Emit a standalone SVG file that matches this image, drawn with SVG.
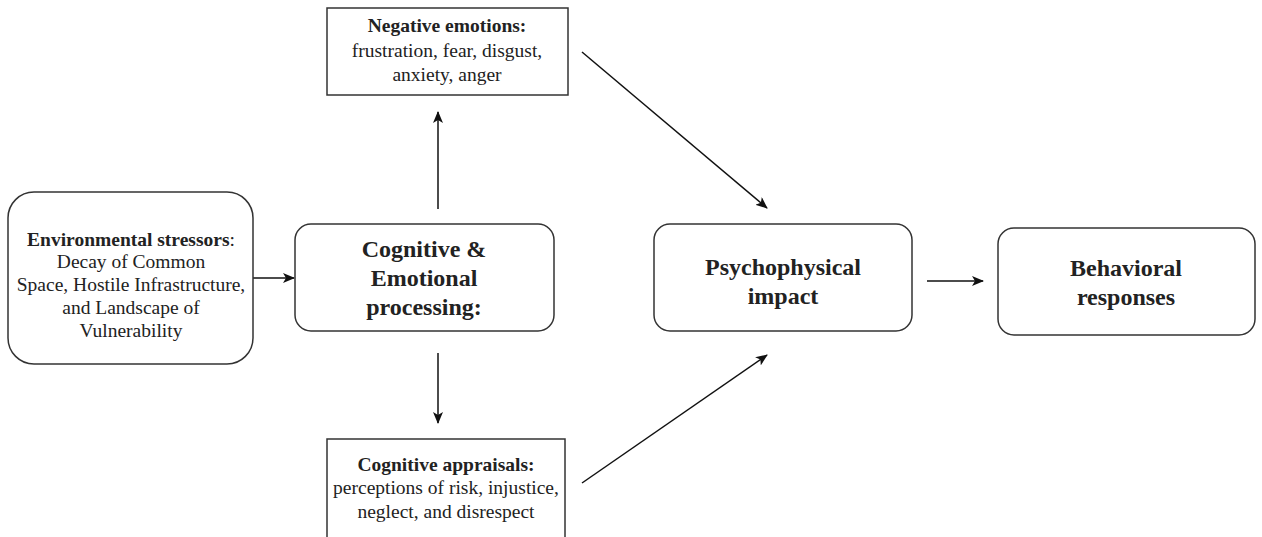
<svg xmlns="http://www.w3.org/2000/svg" width="1262" height="537" viewBox="0 0 1262 537">
<defs>
<style>
.box{fill:#fff;stroke:#333;stroke-width:1.5}
.t{font-family:"Liberation Serif","Times New Roman",serif;font-size:19.5px;fill:#222;text-anchor:middle}
.b{font-weight:bold}
.big{font-family:"Liberation Serif","Times New Roman",serif;font-size:24px;font-weight:bold;fill:#222;text-anchor:middle}
.c{stroke:#111;stroke-width:1.5;fill:none;marker-end:url(#ah)}
</style>
<marker id="ah" markerWidth="12" markerHeight="10" refX="11" refY="5" orient="auto" markerUnits="userSpaceOnUse">
<path d="M0,0 L12,5 L0,10 L3,5 z" fill="#111"/>
</marker>
</defs>
<rect width="1262" height="537" fill="#fff"/>
<g id="connectors">
<line class="c" x1="253" y1="278" x2="294" y2="278"/>
<line class="c" x1="438" y1="209" x2="438" y2="112"/>
<line class="c" x1="438" y1="353" x2="438" y2="423"/>
<line class="c" x1="582" y1="52" x2="767" y2="208"/>
<line class="c" x1="582" y1="483" x2="767" y2="355"/>
<line class="c" x1="927" y1="281" x2="983" y2="281"/>
</g>
<g id="env">
<rect class="box" x="8" y="192" width="245" height="172" rx="26"/>
<text class="t" x="131" y="246"><tspan class="b">Environmental stressors</tspan>:</text>
<text class="t" x="131" y="268">Decay of Common</text>
<text class="t" x="131" y="291">Space, Hostile Infrastructure,</text>
<text class="t" x="131" y="314">and Landscape of</text>
<text class="t" x="131" y="337">Vulnerability</text>
</g>
<g id="cog">
<rect class="box" x="295" y="224" width="259" height="107" rx="16"/>
<text class="big" x="424" y="257">Cognitive &amp;</text>
<text class="big" x="424" y="286">Emotional</text>
<text class="big" x="424" y="315">processing:</text>
</g>
<g id="neg">
<rect class="box" x="327" y="8" width="241" height="87"/>
<text class="t b" x="447" y="32">Negative emotions:</text>
<text class="t" x="447" y="57">frustration, fear, disgust,</text>
<text class="t" x="447" y="81">anxiety, anger</text>
</g>
<g id="appr">
<rect class="box" x="327" y="439" width="238" height="110"/>
<text class="t b" x="446" y="471">Cognitive appraisals:</text>
<text class="t" x="446" y="494">perceptions of risk, injustice,</text>
<text class="t" x="446" y="518">neglect, and disrespect</text>
</g>
<g id="psych">
<rect class="box" x="654" y="224" width="258" height="107" rx="16"/>
<text class="big" x="783" y="275">Psychophysical</text>
<text class="big" x="783" y="304">impact</text>
</g>
<g id="behav">
<rect class="box" x="998" y="228" width="257" height="107" rx="16"/>
<text class="big" x="1126" y="276">Behavioral</text>
<text class="big" x="1126" y="305">responses</text>
</g>
</svg>
